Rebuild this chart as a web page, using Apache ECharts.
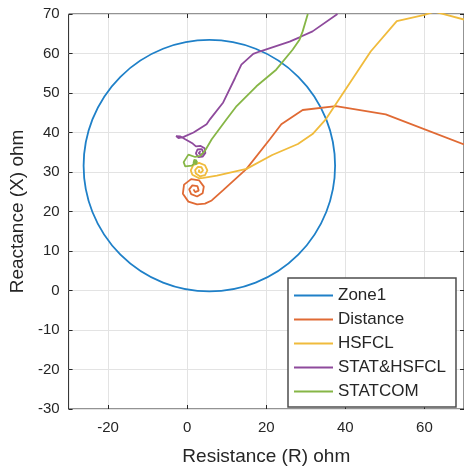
<!DOCTYPE html>
<html>
<head>
<meta charset="utf-8" />
<title>Impedance trajectory</title>
<script src="https://cdn.jsdelivr.net/npm/echarts@6/dist/echarts.min.js"></script>
<style>
  html, body { margin: 0; padding: 0; background: #fff; }
  #main { width: 464px; height: 471px; }
</style>
</head>
<body>
<div id="main"></div>
<script type="text/javascript">
// zone 1 mho circle: centre R, centre X, radius (ohm)
var zone1 = [[5.6, 31.6, 31.8]];

// [R, X] trajectories
var distance = [
  [70, 37.0], [50.2, 44.6], [37.6, 46.7], [29.2, 45.7], [23.8, 42.1], [20.9, 38.3],
  [15, 30.8], [9.1, 25.4], [6.2, 22.8], [4.5, 22.0], [2.5, 21.8], [0.3, 22.5],
  [-1.1, 24.5], [-0.8, 26.8], [1.0, 28.2], [3.0, 27.9], [4.2, 26.3], [3.9, 24.6],
  [2.5, 23.8], [1.0, 24.4], [0.5, 25.6], [1.3, 26.6], [2.6, 26.4], [2.9, 25.3],
  [2.0, 24.9], [1.6, 25.6]
];
var hsfcl = [
  [70, 68.6], [62.5, 70.6], [60, 69.8], [53, 68.2], [46.4, 60.5], [38.4, 48.4],
  [35.1, 43.4], [31.7, 39.6], [28, 37.1], [21.5, 34.3], [15, 30.8], [7.5, 29.1],
  [4.1, 28.5], [3.0, 28.4], [1.3, 29.3], [0.9, 30.4], [1.5, 31.7], [3.0, 32.3],
  [4.5, 31.7], [5.1, 30.4], [4.5, 29.2], [3.2, 28.9], [2.2, 29.6], [2.0, 30.5],
  [2.7, 31.3], [3.6, 31.2], [4.0, 30.4], [3.5, 29.8], [2.9, 30.1], [3.1, 30.6]
];
var statHsfcl = [
  [38, 70], [31.7, 65.6], [28.4, 64.1], [25.9, 63.0], [18.3, 60.5], [16.7, 59.9],
  [13.7, 57.2], [12.1, 53.8], [9.1, 47.6], [5.8, 43.4], [4.9, 42.1], [1.6, 40.0],
  [-0.9, 38.9], [-2.2, 38.6], [-2.8, 39.1], [-2.3, 39.6], [-1.7, 39.0], [-0.5, 38.3],
  [1.4, 37.2], [2.2, 36.5], [3.4, 36.6], [4.4, 36.0], [4.6, 34.8], [3.9, 33.9],
  [2.8, 33.8], [2.2, 34.7], [2.6, 35.7], [3.7, 35.8], [4.1, 34.9], [3.5, 34.3],
  [2.9, 34.8], [3.4, 35.3]
];
var statcom = [
  [30.5, 70], [29.2, 65.6], [28.4, 63.5], [26.7, 61], [22.5, 55.9], [17.5, 51.7],
  [12.5, 46.7], [10, 43.4], [6.2, 38.3], [4.5, 35.4], [3.3, 34.1], [2.0, 33.8],
  [0.3, 34.4], [-0.9, 32.5], [-0.5, 31.4], [1.2, 31.6], [2.4, 32.9], [2.6, 32.5],
  [2.4, 33.4], [1.8, 33.1], [1.6, 32.3], [2.3, 32.0], [2.5, 32.8]
];

var names = ['Zone1', 'Distance', 'HSFCL', 'STAT&HSFCL', 'STATCOM'];
var colors = ['#1f80c8', '#e06a34', '#f0bb3c', '#8e4a9c', '#86b646'];
var xTicks = [-20, 0, 20, 40, 60];

var font = 'Liberation Sans, Arial, sans-serif';
var ink = '#262626';
var lw = 1.8;

var myChart = echarts.init(document.getElementById('main'));

function lineSeries(name, data, color) {
  return {
    name: name,
    type: 'line',
    data: data,
    symbol: 'none',
    clip: true,
    lineStyle: { color: color, width: lw },
    itemStyle: { color: color }
  };
}

var xBase = {
  type: 'value', min: -30, max: 70, interval: 10,
  axisLine: { show: false, onZero: false },
  axisTick: { show: true, inside: true, length: 4, customValues: xTicks, lineStyle: { color: ink } }
};
var yBase = {
  type: 'value', min: -30, max: 70, interval: 10,
  axisLine: { show: false, onZero: false },
  axisTick: { show: true, inside: true, length: 4, lineStyle: { color: ink } }
};

var option = {
  animation: false,
  grid: {
    left: 68, top: 14, width: 398, height: 398.5,
    show: true, borderColor: ink, borderWidth: 1, backgroundColor: 'transparent'
  },
  xAxis: [
    Object.assign({}, xBase, {
      position: 'bottom',
      name: 'Resistance (R) ohm', nameLocation: 'middle', nameGap: 38,
      nameTextStyle: { fontFamily: font, fontSize: 19, color: ink },
      axisLabel: { customValues: xTicks, margin: 11, fontFamily: font, fontSize: 15, color: ink },
      splitLine: { show: true, lineStyle: { color: '#e3e3e3', width: 1 } }
    }),
    Object.assign({}, xBase, {
      position: 'top',
      axisLabel: { show: false },
      splitLine: { show: false }
    })
  ],
  yAxis: [
    Object.assign({}, yBase, {
      position: 'left',
      name: 'Reactance (X) ohm', nameLocation: 'middle', nameGap: 37,
      nameTextStyle: { fontFamily: font, fontSize: 19, color: ink },
      axisLabel: { margin: 9, fontFamily: font, fontSize: 15, color: ink },
      splitLine: { show: true, lineStyle: { color: '#e3e3e3', width: 1 } }
    }),
    Object.assign({}, yBase, {
      position: 'right',
      axisLabel: { show: false },
      splitLine: { show: false }
    })
  ],
  legend: {
    orient: 'vertical', left: 288, top: 278,
    data: names, icon: 'rect', itemWidth: 39, itemHeight: 2, itemGap: 7,
    padding: [9, 10, 7, 6],
    backgroundColor: '#fff', borderColor: '#4d4d4d', borderWidth: 1.5,
    selectedMode: false,
    textStyle: { fontFamily: font, fontSize: 17, color: ink, lineHeight: 16 }
  },
  series: [
    {
      name: 'Zone1',
      type: 'custom',
      data: zone1,
      encode: { x: 0, y: 1 },
      itemStyle: { color: colors[0] },
      renderItem: function (params, api) {
        var c = api.coord([api.value(0), api.value(1)]);
        var r = api.size([api.value(2), api.value(2)]);
        return {
          type: 'circle',
          shape: { cx: c[0], cy: c[1], r: r[0] },
          style: { fill: 'none', stroke: colors[0], lineWidth: lw }
        };
      }
    },
    lineSeries('Distance', distance, colors[1]),
    lineSeries('HSFCL', hsfcl, colors[2]),
    lineSeries('STAT&HSFCL', statHsfcl, colors[3]),
    lineSeries('STATCOM', statcom, colors[4])
  ]
};

myChart.setOption(option);
</script>
</body>
</html>
